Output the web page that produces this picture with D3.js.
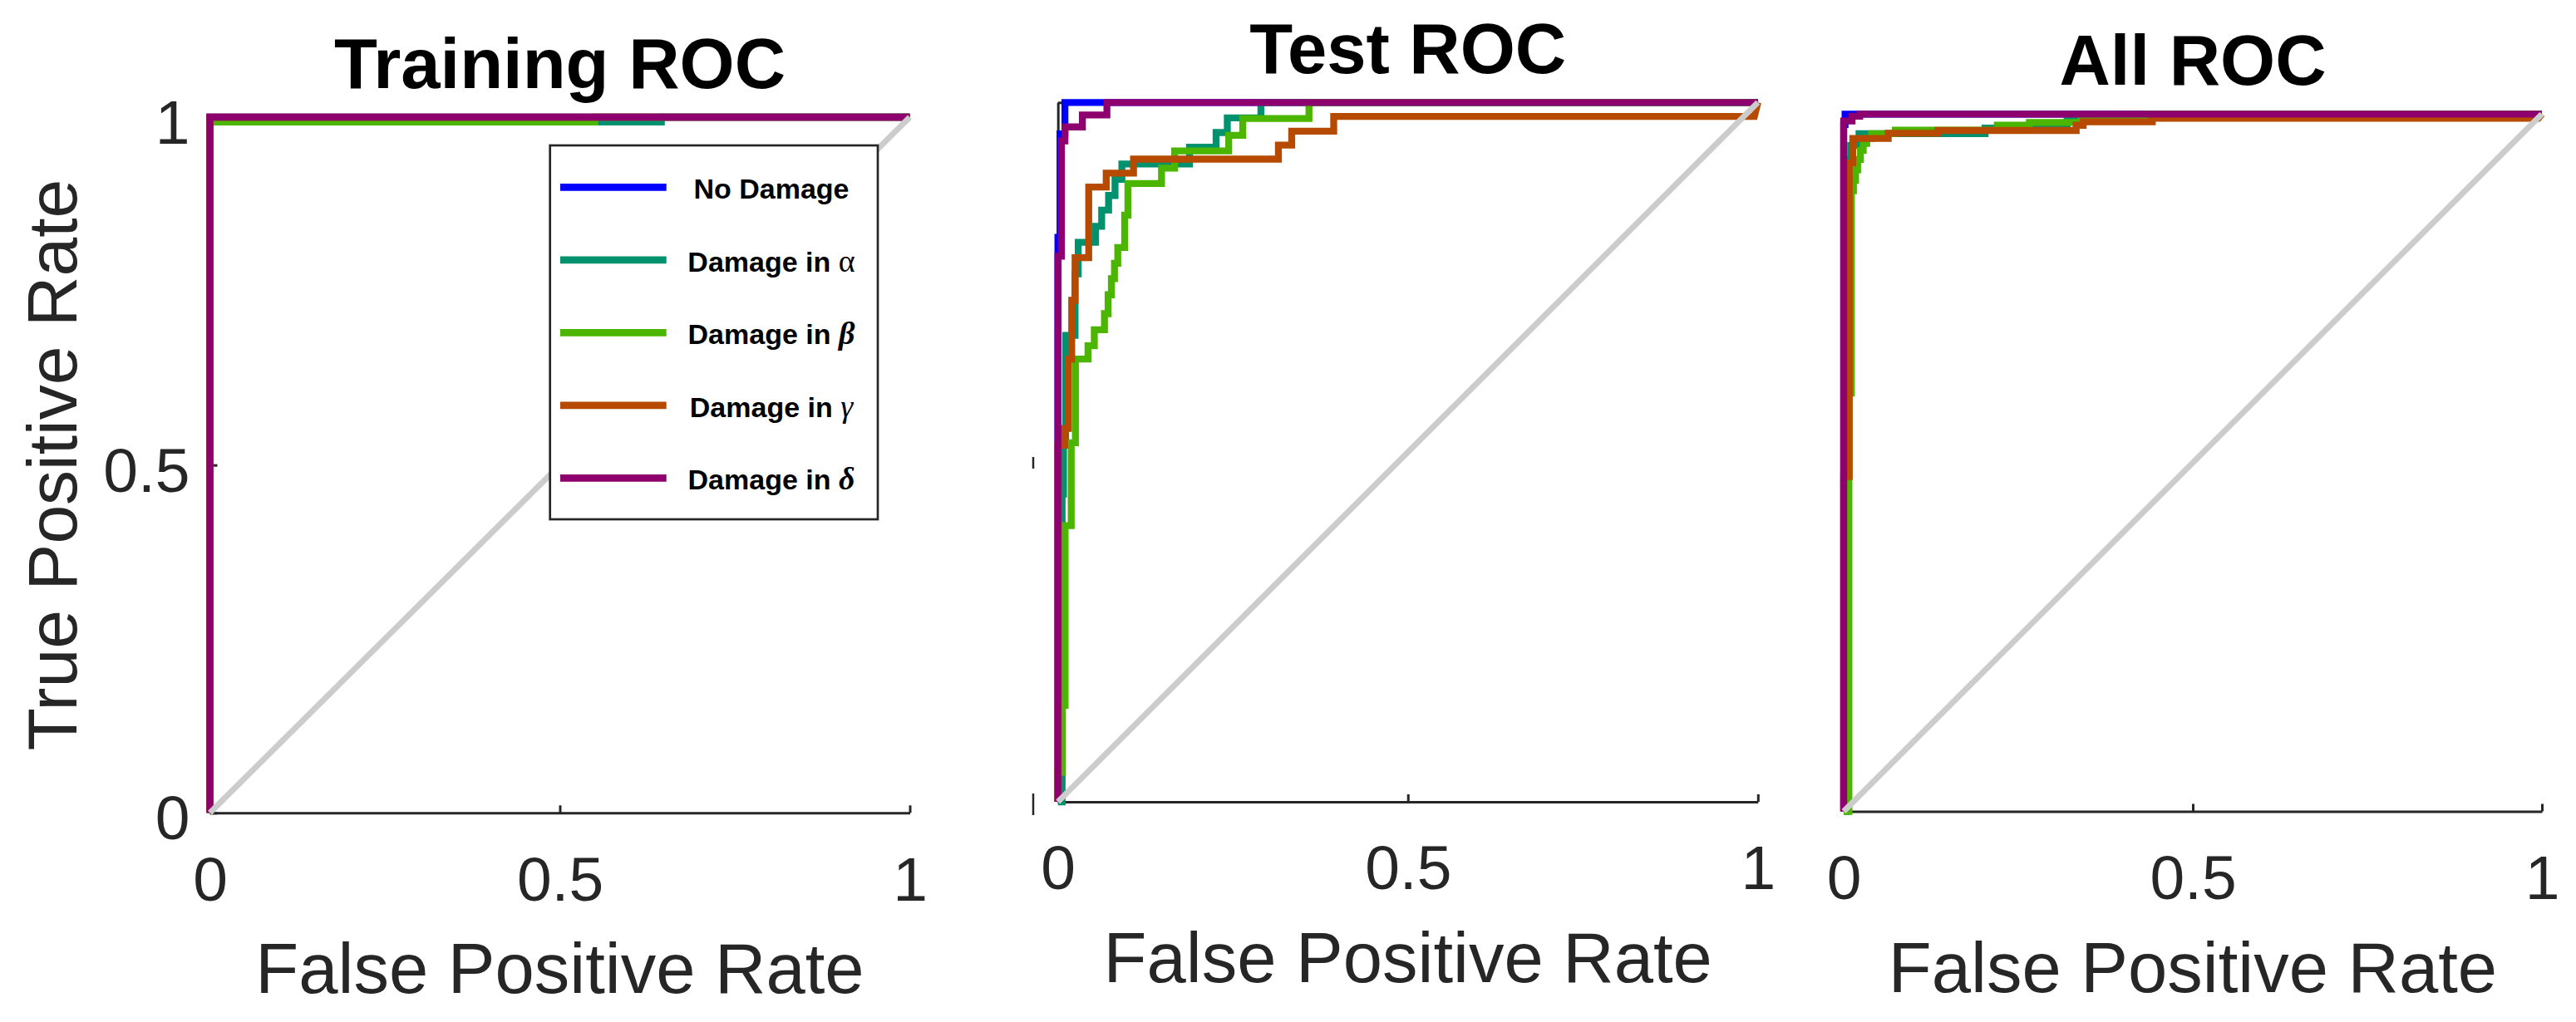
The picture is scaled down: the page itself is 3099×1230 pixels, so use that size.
<!DOCTYPE html>
<html>
<head>
<meta charset="utf-8">
<script src="https://cdn.jsdelivr.net/npm/d3@7"></script>
<style>
  body { margin: 0; background: #fff; }
  svg { display: block; font-family: 'Liberation Sans', Arial, Helvetica, sans-serif; }
  .axis path, .axis line { stroke: #262626; stroke-width: 3; }
  .roc-line { fill: none; stroke-width: 8.3; stroke-linejoin: miter; stroke-linecap: butt; }
  .chance-line { fill: none; stroke: #cccccc; stroke-width: 7; }
</style>
</head>
<body>
<svg id="chart"></svg>
<script>
// ROC curves: [false positive rate, true positive rate]
const seriesNames = ['No Damage', 'Damage in α', 'Damage in β', 'Damage in γ', 'Damage in δ'];
const seriesColors = ['#0000ff', '#00916f', '#4bb500', '#b54a00', '#8f006f'];
const tickValues = [0, 0.5, 1];
const chanceLine = [[0, 0], [1, 1]];

const trainNoDamage = [[0, 0], [0, 1], [1, 1]];
const trainAlpha = [[0, 0], [0, 0.993], [0.645, 0.993], [0.645, 1], [1, 1]];
const trainBeta = [[0, 0], [0, 0.993], [0.55, 0.993], [0.55, 1], [1, 1]];
const trainGamma = [[0, 0], [0, 1], [1, 1]];
const trainDelta = [[0, 0], [0, 1], [1, 1]];

const testNoDamage = [[0, 0], [0, 0.807], [0.003, 0.807], [0.003, 0.955], [0.01, 0.955], [0.01, 1], [1, 1]];
const testAlpha = [[0, 0], [0.006, 0], [0.006, 0.44], [0.008, 0.44], [0.008, 0.51], [0.011, 0.51],
  [0.011, 0.667], [0.0245, 0.667], [0.0245, 0.755], [0.029, 0.755], [0.029, 0.8], [0.0538, 0.8],
  [0.0538, 0.823], [0.0625, 0.823], [0.0625, 0.846], [0.0724, 0.846], [0.0724, 0.867], [0.0816, 0.867],
  [0.0816, 0.89], [0.0914, 0.89], [0.0914, 0.912], [0.188, 0.912], [0.188, 0.936], [0.226, 0.936],
  [0.226, 0.957], [0.242, 0.957], [0.242, 0.978], [0.29, 0.978], [0.29, 1], [1, 1]];
const testBeta = [[0, 0], [0, 0.042], [0.0065, 0.042], [0.0065, 0.138], [0.0103, 0.138], [0.0103, 0.395],
  [0.019, 0.395], [0.019, 0.5135], [0.025, 0.5135], [0.025, 0.633], [0.043, 0.633], [0.043, 0.652],
  [0.052, 0.652], [0.052, 0.675], [0.0665, 0.675], [0.0665, 0.698], [0.0717, 0.698], [0.0717, 0.725],
  [0.0764, 0.725], [0.0764, 0.748], [0.0808, 0.748], [0.0808, 0.77], [0.0855, 0.77], [0.0855, 0.7925],
  [0.0954, 0.7925], [0.0954, 0.839], [0.1, 0.839], [0.1, 0.884], [0.148, 0.884], [0.148, 0.906],
  [0.1667, 0.906], [0.1667, 0.9306], [0.244, 0.9306], [0.244, 0.953], [0.264, 0.953], [0.264, 0.977],
  [0.3587, 0.977], [0.3587, 1], [1, 1]];
const testGamma = [[0, 0], [0, 0.51], [0.0095, 0.51], [0.0095, 0.534], [0.015, 0.534], [0.015, 0.633],
  [0.0197, 0.633], [0.0197, 0.717], [0.0245, 0.717], [0.0245, 0.778], [0.044, 0.778], [0.044, 0.879],
  [0.069, 0.879], [0.069, 0.899], [0.108, 0.899], [0.108, 0.919], [0.315, 0.919], [0.315, 0.939],
  [0.334, 0.939], [0.334, 0.959], [0.394, 0.959], [0.394, 0.98], [0.995, 0.98], [1, 1]];
const testDelta = [[0, 0], [0, 0.78], [0.005, 0.78], [0.005, 0.945], [0.01, 0.945], [0.01, 0.965],
  [0.035, 0.965], [0.035, 0.982], [0.07, 0.982], [0.07, 1], [1, 1]];

const allNoDamage = [[0, 0], [0, 0.985], [0.002, 0.985], [0.002, 1], [1, 1]];
const allAlpha = [[0, 0], [0.004, 0], [0.004, 0.935], [0.01, 0.935], [0.01, 0.955], [0.022, 0.955],
  [0.022, 0.972], [0.2025, 0.972], [0.2025, 0.98], [0.276, 0.98], [0.276, 0.986], [0.32, 0.986],
  [0.32, 0.997], [0.39, 0.997], [0.39, 1], [1, 1]];
const allBeta = [[0, 0], [0.0075, 0], [0.0075, 0.6], [0.011, 0.6], [0.011, 0.89], [0.014, 0.89],
  [0.014, 0.905], [0.017, 0.905], [0.017, 0.92], [0.02, 0.92], [0.02, 0.935], [0.024, 0.935],
  [0.024, 0.948], [0.028, 0.948], [0.028, 0.958], [0.033, 0.958], [0.033, 0.965], [0.04, 0.965],
  [0.04, 0.972], [0.074, 0.972], [0.074, 0.977], [0.22, 0.977], [0.22, 0.984], [0.266, 0.984],
  [0.266, 0.988], [0.34, 0.988], [0.34, 0.995], [0.434, 0.995], [0.434, 1], [1, 1]];
const allGamma = [[0, 0], [0, 0.48], [0.008, 0.48], [0.008, 0.93], [0.013, 0.93], [0.013, 0.965],
  [0.0638, 0.965], [0.0638, 0.9725], [0.135, 0.9725], [0.135, 0.9765], [0.333, 0.9765], [0.333, 0.984],
  [0.343, 0.984], [0.343, 0.989], [0.442, 0.989], [0.442, 0.994], [0.995, 0.994], [1, 1]];
const allDelta = [[0, 0], [0, 0.99], [0.012, 0.99], [0.012, 0.997], [0.023, 0.997], [0.023, 1], [1, 1]];

class RocPanel {
  /**
   * One ROC axes: box-off MATLAB style, curves drawn in legend order, chance line on top
   */
  constructor(_config, _curves) {
    this.config = {
      svg: _config.svg,
      title: _config.title,
      left: _config.left,
      right: _config.right,
      top: _config.top,
      bottom: _config.bottom,
      showYLabels: _config.showYLabels || false,
      showYTitle: _config.showYTitle || false,
      showLegend: _config.showLegend || false,
    };
    this.curves = _curves;
    this.initVis();
  }

  initVis() {
    const vis = this;
    const c = vis.config;

    vis.xScale = d3.scaleLinear().domain([0, 1]).range([c.left, c.right]);
    vis.yScale = d3.scaleLinear().domain([0, 1]).range([c.bottom, c.top]);

    vis.xAxis = d3.axisBottom(vis.xScale)
      .tickValues(tickValues)
      .tickFormat((d) => String(d))
      .tickSizeInner(-9)
      .tickSizeOuter(0)
      .tickPadding(52);

    vis.yAxis = d3.axisLeft(vis.yScale)
      .tickValues(tickValues)
      .tickFormat((d) => (c.showYLabels ? String(d) : ''))
      .tickSizeInner(-9)
      .tickSizeOuter(0)
      .tickPadding(24);

    vis.g = c.svg.append('g');
    vis.renderVis();
  }

  renderVis() {
    const vis = this;
    const c = vis.config;

    const xAxisG = vis.g.append('g')
      .attr('class', 'axis x-axis')
      .attr('transform', `translate(0,${c.bottom})`)
      .call(vis.xAxis);
    const yAxisG = vis.g.append('g')
      .attr('class', 'axis y-axis')
      .attr('transform', `translate(${c.left},0)`)
      .call(vis.yAxis);

    [xAxisG, yAxisG].forEach((ax) => {
      ax.attr('font-size', null).attr('font-family', null);
      ax.selectAll('text')
        .style('font-size', '75px')
        .style('fill', '#262626');
    });
    yAxisG.selectAll('text').attr('dy', '0.42em');

    const line = d3.line()
      .x((d) => vis.xScale(d[0]))
      .y((d) => vis.yScale(d[1]));

    vis.g.selectAll('.roc-line')
      .data(vis.curves)
      .join('path')
      .attr('class', 'roc-line')
      .attr('stroke', (d, i) => seriesColors[i])
      .attr('d', (d) => line(d));

    vis.g.append('path')
      .attr('class', 'chance-line')
      .attr('d', line(chanceLine));

    // Titles
    vis.g.append('text')
      .attr('x', (c.left + c.right) / 2)
      .attr('y', c.top - 35)
      .attr('text-anchor', 'middle')
      .style('font-size', '85px')
      .style('font-weight', 'bold')
      .style('fill', '#000')
      .text(c.title);

    vis.g.append('text')
      .attr('x', (c.left + c.right) / 2)
      .attr('y', c.bottom + 217)
      .attr('text-anchor', 'middle')
      .style('font-size', '85px')
      .style('fill', '#262626')
      .text('False Positive Rate');

    if (c.showYTitle) {
      vis.g.append('text')
        .attr('transform', `translate(92,${(c.top + c.bottom) / 2}) rotate(-90)`)
        .attr('text-anchor', 'middle')
        .style('font-size', '84px')
        .style('fill', '#262626')
        .text('True Positive Rate');
    }

    if (c.showLegend) vis.renderLegend();
  }

  renderLegend() {
    const vis = this;
    const lx = 661.7;
    const ly = 175;
    const rowH = 87.5;

    const legend = vis.g.append('g').attr('class', 'legend');
    legend.append('rect')
      .attr('x', lx).attr('y', ly)
      .attr('width', 394.3).attr('height', 450)
      .attr('fill', '#fff')
      .attr('stroke', '#262626')
      .attr('stroke-width', 2.7);

    // greek letters come out of the TeX interpreter with mixed styles
    const greekStyle = {
      α: { weight: 'normal', style: 'normal' },
      β: { weight: 'bold', style: 'italic' },
      γ: { weight: 'normal', style: 'italic' },
      δ: { weight: 'bold', style: 'italic' },
    };

    seriesNames.forEach((name, i) => {
      const y = ly + 50.3 + i * rowH;
      legend.append('line')
        .attr('x1', lx + 12.3).attr('x2', lx + 140)
        .attr('y1', y).attr('y2', y)
        .attr('stroke', seriesColors[i])
        .attr('stroke-width', 8.7);

      const txt = legend.append('text')
        .attr('x', 928)
        .attr('y', y + 14)
        .attr('text-anchor', 'middle')
        .style('font-size', '34px')
        .style('font-weight', 'bold')
        .style('fill', '#000');
      const last = name.slice(-1);
      if (greekStyle[last]) {
        txt.append('tspan').text(name.slice(0, -1));
        txt.append('tspan')
          .style('font-family', "'Liberation Serif', 'DejaVu Serif', serif")
          .style('font-size', '38px')
          .style('font-weight', greekStyle[last].weight)
          .style('font-style', greekStyle[last].style)
          .text(last);
      } else {
        txt.text(name);
      }
    });
  }
}

const svg = d3.select('#chart')
  .attr('width', 3099)
  .attr('height', 1230);

const trainPanel = new RocPanel({
  svg, title: 'Training ROC', left: 252.5, right: 1094.5, top: 141, bottom: 978.3,
  showYLabels: true, showYTitle: true, showLegend: true,
}, [trainNoDamage, trainAlpha, trainBeta, trainGamma, trainDelta]);

const testPanel = new RocPanel({
  svg, title: 'Test ROC', left: 1272.7, right: 2114.8, top: 123.3, bottom: 965,
}, [testNoDamage, testAlpha, testBeta, testGamma, testDelta]);

const allPanel = new RocPanel({
  svg, title: 'All ROC', left: 2218, right: 3058, top: 137.3, bottom: 976.5,
}, [allNoDamage, allAlpha, allBeta, allGamma, allDelta]);

// slivers of clipped y tick labels left of the test axes
svg.selectAll('.clip-mark')
  .data([[550, 564], [955, 981]])
  .join('line')
  .attr('class', 'clip-mark')
  .attr('x1', 1243).attr('x2', 1243)
  .attr('y1', (d) => d[0]).attr('y2', (d) => d[1])
  .attr('stroke', '#262626')
  .attr('stroke-width', 2.5);
</script>
</body>
</html>
